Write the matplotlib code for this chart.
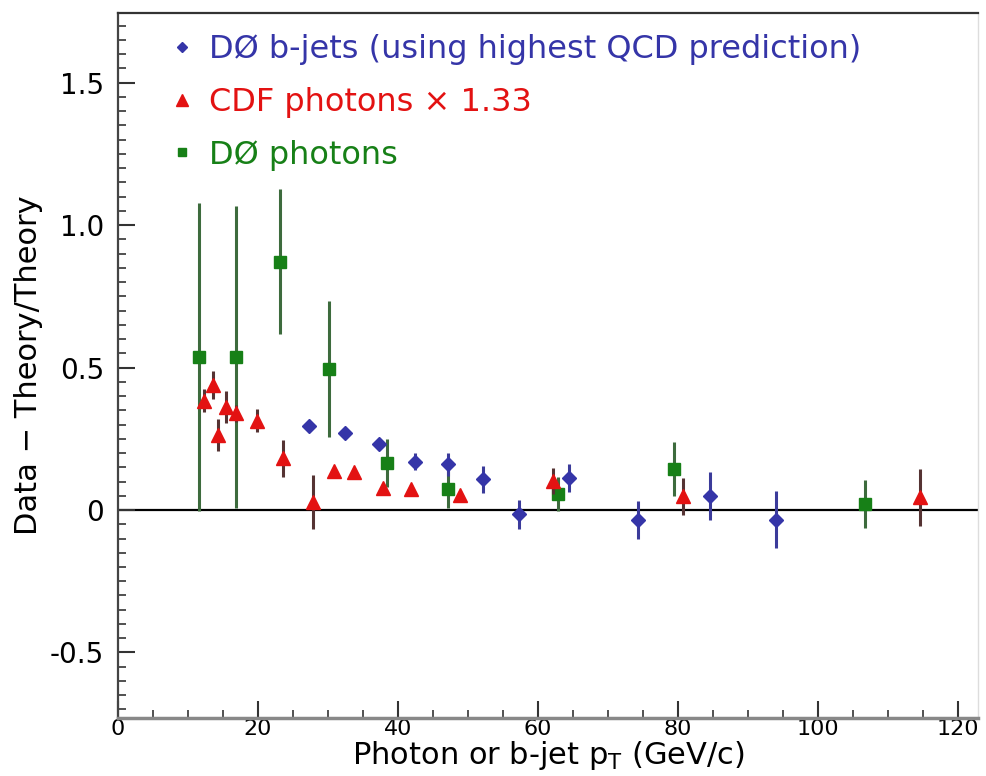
import matplotlib
matplotlib.use("Agg")
import matplotlib.pyplot as plt
from matplotlib.lines import Line2D
from matplotlib.ticker import MultipleLocator

# DØ b-jets (using highest QCD prediction)
bjet_pt = [27.3, 32.4, 37.3, 42.5, 47.2, 52.2, 57.3, 64.5, 74.3, 84.6, 94.0]
bjet_val = [0.295, 0.271, 0.232, 0.170, 0.160, 0.108, -0.015, 0.113, -0.035, 0.049, -0.035]
bjet_err = [0.01, 0.01, 0.02, 0.03, 0.04, 0.048, 0.05, 0.05, 0.065, 0.085, 0.10]

# CDF photons x 1.33
cdf_pt = [12.3, 13.5, 14.3, 15.4, 16.8, 19.8, 23.5, 27.8, 30.9, 33.7, 37.8, 41.8, 48.9, 62.2, 80.7, 114.6]
cdf_val = [0.384, 0.439, 0.263, 0.362, 0.339, 0.313, 0.181, 0.029, 0.138, 0.135, 0.076, 0.073, 0.053, 0.102, 0.049, 0.044]
cdf_err = [0.04, 0.05, 0.055, 0.055, 0.03, 0.04, 0.065, 0.095, 0.01, 0.01, 0.02, 0.02, 0.015, 0.045, 0.065, 0.10]

# DØ photons
d0g_pt = [11.6, 16.8, 23.1, 30.1, 38.4, 47.2, 62.8, 79.4, 106.7]
d0g_val = [0.536, 0.536, 0.871, 0.495, 0.164, 0.074, 0.055, 0.143, 0.021]
d0g_err = [0.54, 0.53, 0.255, 0.24, 0.085, 0.068, 0.06, 0.095, 0.085]

labels = ["DØ b-jets (using highest QCD prediction)", "CDF photons × 1.33", "DØ photons"]

BLUE, RED, GREEN = "#3535a8", "#e31212", "#178017"

fig = plt.figure(figsize=(9.87, 7.76), dpi=100)
ax = fig.add_axes([0.1196, 0.0747, 0.8714, 0.9085])

ax.axhline(0, color="black", lw=1.6, zorder=1)

ax.errorbar(d0g_pt, d0g_val, yerr=d0g_err, fmt="s", ms=8, color=GREEN,
            ecolor="#3d6b3d", elinewidth=2.2, capsize=0, zorder=2)
ax.errorbar(cdf_pt, cdf_val, yerr=cdf_err, fmt="^", ms=10, color=RED,
            ecolor="#553333", elinewidth=2.2, capsize=0, zorder=3)
ax.errorbar(bjet_pt, bjet_val, yerr=bjet_err, fmt="D", ms=7, color=BLUE,
            ecolor="#3b3b9a", elinewidth=2.2, capsize=0, zorder=4)

ax.set_xlim(0, 122.9)
ax.set_ylim(-0.73, 1.744)

ax.xaxis.set_major_locator(MultipleLocator(20))
ax.xaxis.set_minor_locator(MultipleLocator(5))
ax.yaxis.set_minor_locator(MultipleLocator(0.05))
ax.set_yticks([-0.5, 0, 0.5, 1.0, 1.5])
ax.set_yticklabels(["-0.5", "0", "0.5", "1.0", "1.5"])

ax.tick_params(which="both", direction="in", top=False, right=False, color="#333333")
ax.tick_params(which="major", length=12, width=1.5)
ax.tick_params(which="minor", length=6, width=1.2)
ax.tick_params(axis="y", labelsize=20, pad=10)
ax.tick_params(axis="x", labelsize=16, pad=1)

ax.spines["top"].set_color("#333333")
ax.spines["top"].set_linewidth(1.6)
ax.spines["left"].set_color("#444444")
ax.spines["left"].set_linewidth(1.6)
ax.spines["bottom"].set_color("#888888")
ax.spines["bottom"].set_linewidth(2.5)
ax.spines["right"].set_color("#dddddd")
ax.spines["right"].set_linewidth(1.0)

ax.set_ylabel("Data − Theory/Theory", fontsize=22, labelpad=5)
ax.set_xlabel("Photon or b-jet p$_\\mathregular{T}$ (GeV/c)", fontsize=22, labelpad=0)

handles = [
    Line2D([], [], marker="D", ms=5, ls="none", color=BLUE),
    Line2D([], [], marker="^", ms=9, ls="none", color=RED),
    Line2D([], [], marker="s", ms=6, ls="none", color=GREEN),
]
ax.legend(handles, labels, loc="upper left", bbox_to_anchor=(0.046, 0.986),
          frameon=False, fontsize=23, handletextpad=0.45, labelspacing=0.68,
          borderaxespad=0, borderpad=0.35,
          handlelength=0.8, labelcolor=[BLUE, RED, GREEN])

fig.savefig("out.png", dpi=100)
